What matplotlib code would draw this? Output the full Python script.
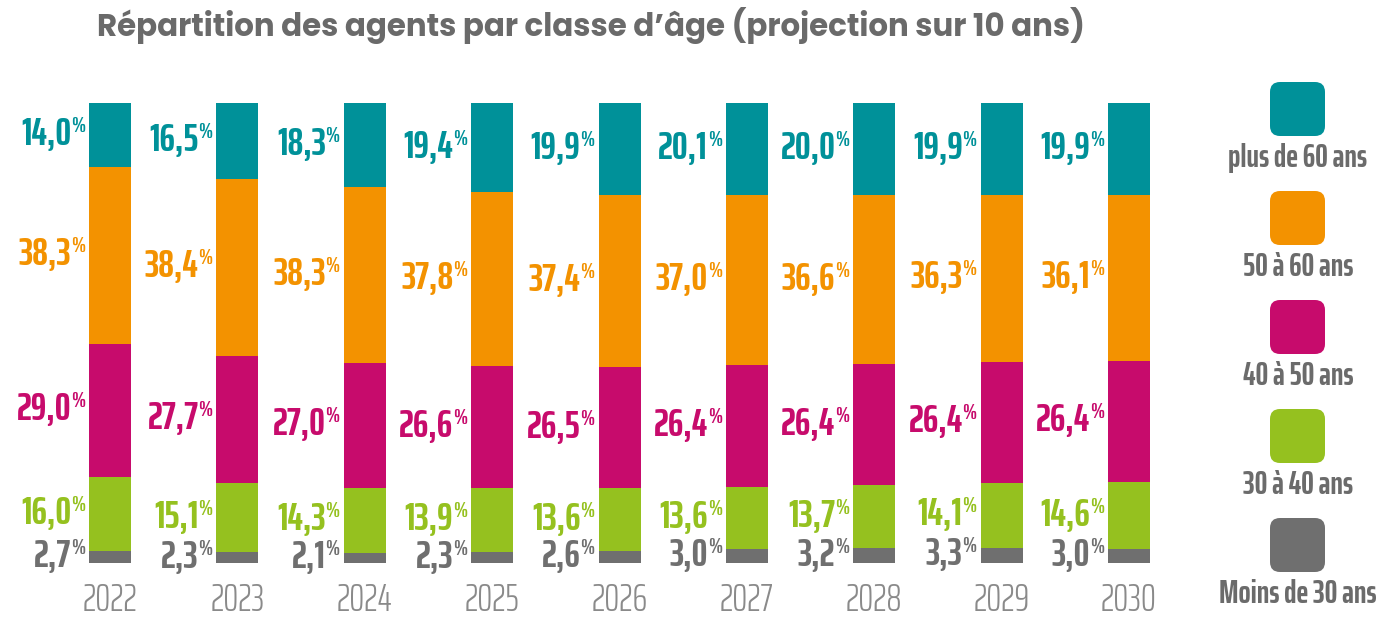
import os
import matplotlib
matplotlib.use("Agg")
import matplotlib.pyplot as plt
from matplotlib import font_manager
from matplotlib.font_manager import FontProperties
from matplotlib.patches import FancyBboxPatch
from matplotlib.textpath import TextPath

years = ["2022", "2023", "2024", "2025", "2026", "2027", "2028", "2029", "2030"]
categories = ["Moins de 30 ans", "30 à 40 ans", "40 à 50 ans", "50 à 60 ans", "plus de 60 ans"]
moins_30 = [2.7, 2.3, 2.1, 2.3, 2.6, 3.0, 3.2, 3.3, 3.0]
de_30_40 = [16.0, 15.1, 14.3, 13.9, 13.6, 13.6, 13.7, 14.1, 14.6]
de_40_50 = [29.0, 27.7, 27.0, 26.6, 26.5, 26.4, 26.4, 26.4, 26.4]
de_50_60 = [38.3, 38.4, 38.3, 37.8, 37.4, 37.0, 36.6, 36.3, 36.1]
plus_60 = [14.0, 16.5, 18.3, 19.4, 19.9, 20.1, 20.0, 19.9, 19.9]
series = [moins_30, de_30_40, de_40_50, de_50_60, plus_60]
colors = ["#6f6f6f", "#95c11f", "#c70b6c", "#f39200", "#009199"]

by_name = {os.path.basename(f.fname).lower(): f.fname for f in font_manager.fontManager.ttflist}


def font(*names, family="DejaVu Sans", weight="normal"):
    for n in names:
        if n.lower() in by_name:
            return FontProperties(fname=by_name[n.lower()])
    return FontProperties(family=family, weight=weight)


num_fp = font("SairaExtraCondensed-Bold.ttf", "SairaExtraCondensed-SemiBold.ttf",
              "BarlowCondensed-SemiBold.ttf", "PTSansNarrow-Bold.ttf", weight="bold")
year_fp = font("SairaExtraCondensed-Light.ttf", "BarlowCondensed-Light.ttf")
title_fp = font("Poppins-Bold.ttf", "Montserrat-Bold.ttf", "Montserrat-ExtraBold.ttf",
                family="Lato", weight="bold")


def size_for_cap(fp, cap_px):
    # point size giving the wanted cap height in pixels at 100 dpi
    h = TextPath((0, 0), "H", size=100, prop=fp).get_extents().height
    return cap_px / (h / 100) * 72 / 100


NUM_SIZE = size_for_cap(num_fp, 27)
PCT_SIZE = size_for_cap(num_fp, 15)
YEAR_SIZE = size_for_cap(year_fp, 26)
LEG_SIZE = size_for_cap(num_fp, 22)

W, H = 1391, 619
fig = plt.figure(figsize=(W / 100, H / 100), dpi=100)
fig.patch.set_facecolor("white")

# bars: centres 110 px .. 1129 px, 100 % at 103 px, 0 % at 563 px
step = (1129 - 110) / 8
ax = fig.add_axes([0, 1 - 563 / H, 1180 / W, 460 / H])
ax.set_xlim((0 - 110) / step, (1180 - 110) / step)
ax.set_ylim(0, 100)
ax.axis("off")

x = range(len(years))
bw = 42 / step
bottom = [0.0] * len(years)
for vals, col in zip(series, colors):
    ax.bar(x, vals, bw, bottom=bottom, color=col, linewidth=0)
    for i, v in enumerate(vals):
        yc = bottom[i] + v / 2
        left = i - bw / 2
        txt = f"{v:.1f}".replace(".", ",")
        ax.annotate(txt, (left, yc), xytext=(-18, -10), textcoords="offset pixels",
                    ha="right", va="baseline", fontproperties=num_fp, fontsize=NUM_SIZE, color=col)
        ax.annotate("%", (left, yc), xytext=(-4, 3), textcoords="offset pixels",
                    ha="right", va="baseline", fontproperties=num_fp, fontsize=PCT_SIZE, color=col)
    bottom = [b + v for b, v in zip(bottom, vals)]

for i, yr in enumerate(years):
    ax.annotate(yr, (i, 0), xytext=(0, -48), textcoords="offset pixels", ha="center",
                va="baseline", fontproperties=year_fp, fontsize=YEAR_SIZE, color="#8a8a8a")

title = fig.text(591 / W, 1 - 36 / H, "Répartition des agents par classe d\u2019âge (projection sur 10 ans)",
                 ha="center", va="baseline", fontproperties=title_fp,
                 fontsize=size_for_cap(title_fp, 20), color="#6a6a6a")
fig.canvas.draw()
tw = title.get_window_extent().width
title.set_fontsize(title.get_fontsize() * 988 / tw)

# legend, drawn in pixel coordinates
lg = fig.add_axes([0, 0, 1, 1])
lg.set_xlim(0, W)
lg.set_ylim(H, 0)
lg.axis("off")
sq_top = [82, 191, 300, 409, 518]
for k, (name, col) in enumerate(zip(categories[::-1], colors[::-1])):
    y0 = sq_top[k]
    lg.add_patch(FancyBboxPatch((1270 + 10, y0 + 10), 55 - 20, 54 - 20,
                                boxstyle="round,pad=10", fc=col, ec="none"))
    lg.text(1298, y0 + 85, name, ha="center", va="baseline", fontproperties=num_fp,
            fontsize=LEG_SIZE, color="#6b6b6b")

fig.savefig("out.png", dpi=100, facecolor="white")
